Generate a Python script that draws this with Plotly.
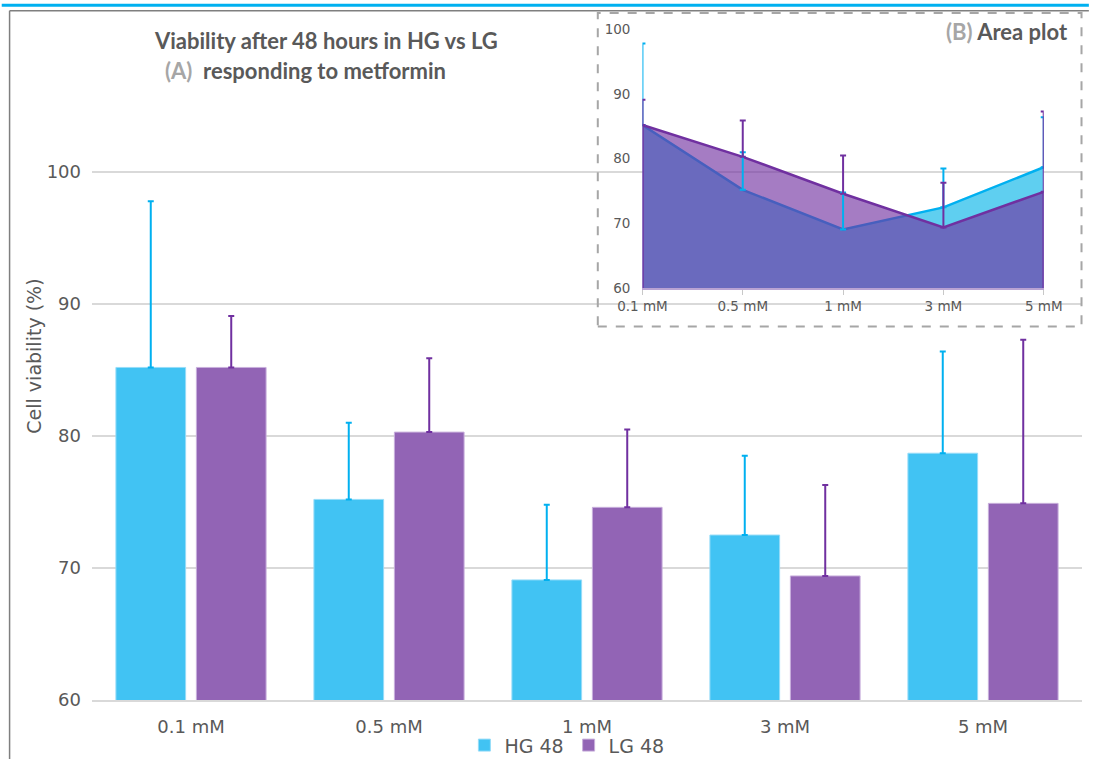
import plotly.graph_objects as go

categories = ["0.1 mM", "0.5 mM", "1 mM", "3 mM", "5 mM"]
hg_values = [85.2, 75.2, 69.1, 72.5, 78.7]
hg_errors = [12.6, 5.8, 5.7, 6.0, 7.7]
lg_values = [85.2, 80.3, 74.6, 69.4, 74.9]
lg_errors = [3.9, 5.6, 5.9, 6.9, 12.4]
y_ticks = [60, 70, 80, 90, 100]
series_names = ["HG 48", "LG 48"]

W, H = 1108, 771
ML, MR, MT, MB = 92, 7, 20, 60
PW, PH = W - ML - MR, H - MT - MB


def px_x(x):
    return (x - ML) / PW


def px_y(y):
    return (H - MB - y) / PH


C_HG_BAR = "rgb(65,195,243)"
C_LG_BAR = "rgb(146,100,181)"
C_HG = "#00B0F0"
C_LG = "#7030A0"
TXT = "#595959"
TFONT = "Lato, 'Open Sans', sans-serif"
AFONT = "'DejaVu Sans', sans-serif"

fig = go.Figure()

# main bars
fig.add_trace(go.Bar(
    x=categories, y=hg_values, name=series_names[0],
    marker=dict(color=C_HG_BAR, line=dict(color="rgba(150,220,248,1)", width=1)),
    error_y=dict(type="data", array=hg_errors, symmetric=False,
                 arrayminus=[0] * len(hg_errors), color=C_HG, thickness=2, width=3),
    xaxis="x", yaxis="y",
))
fig.add_trace(go.Bar(
    x=categories, y=lg_values, name=series_names[1],
    marker=dict(color=C_LG_BAR, line=dict(color="rgba(200,175,220,1)", width=1)),
    error_y=dict(type="data", array=lg_errors, symmetric=False,
                 arrayminus=[0] * len(lg_errors), color=C_LG, thickness=2, width=3),
    xaxis="x", yaxis="y",
))

# inset area plot
idx = list(range(len(categories)))
fig.add_trace(go.Scatter(
    x=idx, y=hg_values, mode="lines", fill="tozeroy",
    fillcolor="rgb(95,207,240)", line=dict(color=C_HG, width=2.5),
    xaxis="x2", yaxis="y2", showlegend=False, hoverinfo="skip",
))
base = y_ticks[0]
fig.add_trace(go.Scatter(
    x=[idx[0]] + idx + [idx[-1]], y=[base] + lg_values + [base], mode="lines", fill="tozeroy",
    fillcolor="rgba(112,48,160,0.63)", line=dict(color=C_LG, width=2.5),
    xaxis="x2", yaxis="y2", showlegend=False, hoverinfo="skip",
))
fig.add_trace(go.Scatter(
    x=idx, y=hg_values, mode="markers", marker=dict(size=1, opacity=0),
    error_y=dict(type="data", array=hg_errors, symmetric=False,
                 arrayminus=[0] * len(hg_errors), color=C_HG, thickness=2, width=3),
    xaxis="x2", yaxis="y2", showlegend=False, hoverinfo="skip",
))
fig.add_trace(go.Scatter(
    x=idx, y=lg_values, mode="markers", marker=dict(size=1, opacity=0),
    error_y=dict(type="data", array=lg_errors, symmetric=False,
                 arrayminus=[0] * len(lg_errors), color=C_LG, thickness=2, width=3),
    xaxis="x2", yaxis="y2", showlegend=False, hoverinfo="skip",
))

main_top = 60 + (H - MB - MT) / 13.41

fig.update_layout(
    width=W, height=H,
    margin=dict(l=ML, r=MR, t=MT, b=MB),
    paper_bgcolor="white", plot_bgcolor="rgba(0,0,0,0)",
    barmode="group", bargap=0.187, bargroupgap=0.134,
    font=dict(family=AFONT, color=TXT),
    xaxis=dict(
        domain=[0, 1], range=[-0.5, 4.5], showline=True, linecolor="#D9D9D9", linewidth=1.5,
        tickfont=dict(size=18, color=TXT, family=AFONT), ticks="", ticklabelstandoff=10,
        showgrid=False, zeroline=False, fixedrange=True,
    ),
    yaxis=dict(
        domain=[0, 1], range=[60, main_top], tickvals=y_ticks,
        showgrid=True, gridcolor="#D9D9D9", gridwidth=1.5, zeroline=False,
        showline=False, tickfont=dict(size=18, color=TXT, family=AFONT), ticklabelstandoff=10,
    ),
    xaxis2=dict(
        domain=[px_x(653), px_x(1062)], anchor="y2", range=[0, 4],
        tickvals=idx, ticktext=categories, showline=True, linecolor="#B9A3D3", linewidth=1.5,
        ticks="outside", ticklen=5, tickcolor="#C8C8C8", tickwidth=1,
        tickfont=dict(size=13.5, color=TXT, family=AFONT), showgrid=False, zeroline=False,
    ),
    yaxis2=dict(
        domain=[px_y(292.7), px_y(29.3)], anchor="x2", range=[60, 100], tickvals=y_ticks,
        showgrid=False, zeroline=False, showline=False,
        tickfont=dict(size=13.5, color=TXT, family=AFONT), ticklabelstandoff=11,
    ),
    legend=dict(
        orientation="h", x=px_x(576), xanchor="center", y=px_y(757), yanchor="middle",
        font=dict(size=19, color=TXT, family=AFONT), bgcolor="rgba(0,0,0,0)", itemwidth=30,
        traceorder="normal",
    ),
    showlegend=True,
)

shapes = [
    dict(type="line", xref="paper", yref="paper", x0=px_x(0), x1=px_x(W), y0=px_y(5), y1=px_y(5),
         line=dict(color="#00B0F0", width=3)),
    dict(type="line", xref="paper", yref="paper", x0=px_x(8), x1=px_x(W), y0=px_y(10.5), y1=px_y(10.5),
         line=dict(color="#7F7F7F", width=1.5)),
    dict(type="line", xref="paper", yref="paper", x0=px_x(8), x1=px_x(8), y0=px_y(10.5), y1=px_y(H),
         line=dict(color="#7F7F7F", width=1.5)),
    dict(type="rect", xref="paper", yref="paper", x0=px_x(607.5), x1=px_x(1100.5),
         y0=px_y(331.5), y1=px_y(13), line=dict(color="#A6A6A6", width=2, dash="dash"),
         fillcolor="rgba(0,0,0,0)"),
]
fig.update_layout(shapes=shapes)

annotations = [
    dict(text="<b>Viability after 48 hours in HG vs LG</b>", xref="paper", yref="paper",
         x=px_x(331), y=px_y(41), xanchor="center", yanchor="middle", showarrow=False,
         font=dict(size=22, color=TXT, family=TFONT)),
    dict(text="<b><span style='color:#A6A6A6'>(A)</span>  responding to metformin</b>",
         xref="paper", yref="paper", x=px_x(164), y=px_y(71), xanchor="left", yanchor="middle",
         showarrow=False, font=dict(size=22, color=TXT, family=TFONT)),
    dict(text="<b><span style='color:#A6A6A6'>(B)</span> Area plot</b>",
         xref="paper", yref="paper", x=px_x(1089), y=px_y(32), xanchor="right", yanchor="middle",
         showarrow=False, font=dict(size=22, color=TXT, family=TFONT)),
    dict(text="Cell viability (%)", xref="paper", yref="paper", x=px_x(32), y=px_y(362),
         xanchor="center", yanchor="middle", textangle=-90, showarrow=False,
         font=dict(size=19, color=TXT, family=AFONT)),
]
fig.update_layout(annotations=annotations)

fig.write_html("out.html")
